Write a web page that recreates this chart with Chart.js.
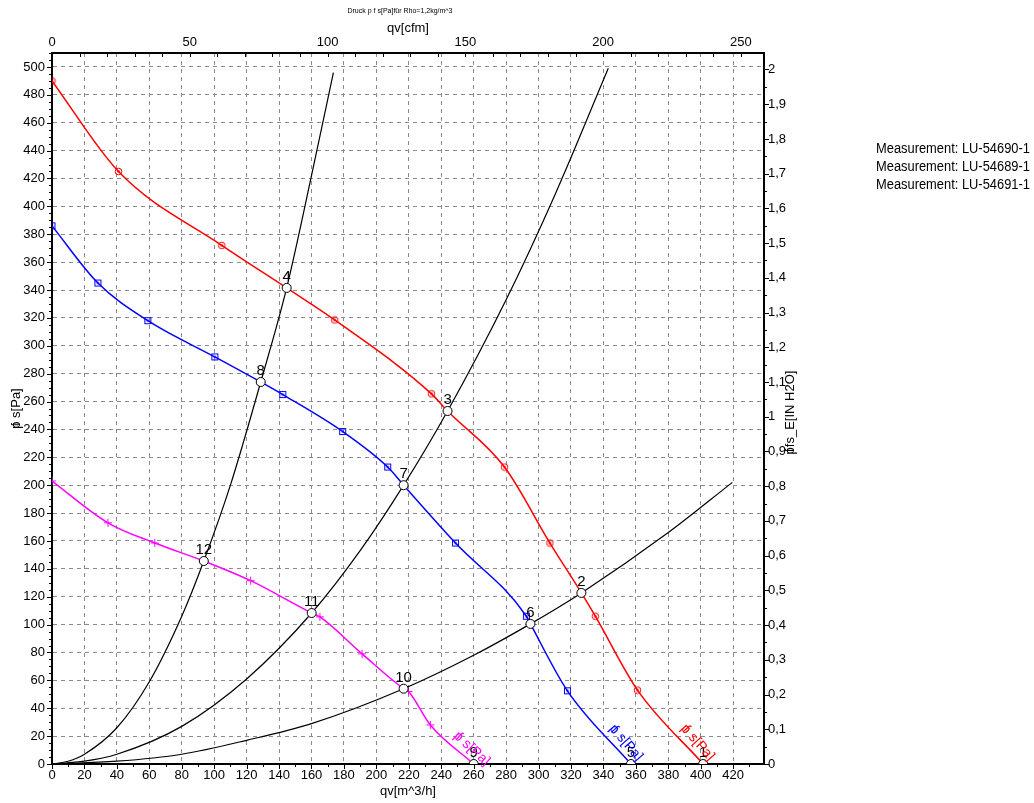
<!DOCTYPE html>
<html>
<head>
<meta charset="utf-8">
<script src="https://cdn.jsdelivr.net/npm/chart.js@4.4.1/dist/chart.umd.min.js"></script>
<style>
  html, body { margin: 0; padding: 0; background: #fff; }
  #wrap { position: relative; width: 1034px; height: 803px; }
  #legend { position: absolute; left: 876px; top: 139px; font: 14px 'Liberation Sans', Arial, sans-serif; line-height: 18px; color: #000; white-space: nowrap; transform: scaleX(0.92); transform-origin: 0 0; }
</style>
</head>
<body>
<div id="wrap">
  <canvas id="chart" width="1034" height="803"></canvas>
  <div id="legend"></div>
</div>
<script>
// axis ranges (m^3/h and Pa), secondary units
const qMax = 439;
const pMax = 510;
const cfmPerM3h = 1 / 1.699;
const inH2OPerPa = 1 / 249.09;

const legendNames = ['Measurement: LU-54690-1', 'Measurement: LU-54689-1', 'Measurement: LU-54691-1'];

// pump curves, q [m^3/h] / p [Pa]; mark = measured point symbol
const redQ = [0, 41, 104.7, 144.7, 174.3, 234, 243.9, 279, 307, 326.4, 335, 361, 401.5];
const redP = [490, 425, 372, 341.5, 318.5, 265.5, 253.2, 213, 158.5, 122.7, 106, 53, 0];
const redMark = [1, 1, 1, 0, 1, 1, 0, 1, 1, 0, 1, 1, 0];

const blueQ = [0, 28.3, 59.1, 100.4, 128.7, 142.3, 179.2, 207, 216.8, 248.8, 292.5, 295, 317.8, 357];
const blueP = [386, 345, 318, 292, 274, 265, 238.5, 213, 200, 158.5, 106, 100.5, 52.5, 0];
const blueMark = [1, 1, 1, 1, 0, 1, 1, 1, 0, 1, 1, 0, 1, 0];

const pinkQ = [0, 34.5, 63.4, 93.6, 122.5, 160.1, 165.2, 191.2, 216.8, 219.8, 233.3, 260];
const pinkP = [203, 173, 158.5, 145.6, 131.5, 108.3, 105.5, 79, 54, 52, 28, 0];
const pinkMark = [1, 1, 1, 0, 1, 0, 1, 1, 0, 1, 1, 0];

// system curves
const sysAQ = [0, 10, 20, 40, 60, 80, 93.6, 110, 128.7, 144.7, 160, 173.5];
const sysAP = [0, 2, 7, 26, 59, 106, 145.6, 200, 274, 341.5, 422, 496];
const sysBQ = [0, 20, 40, 80, 120, 160.1, 190, 216.8, 243.9, 280, 310, 343];
const sysBP = [0, 2, 7, 27, 61, 108.3, 153, 200, 253.2, 333, 408, 499];
const sysCQ = [0, 40, 80, 120, 160, 216.8, 260, 295, 326.4, 380, 419.5];
const sysCP = [0, 2, 7, 17, 29, 54, 78, 100.5, 122.7, 166, 202];

// operating points
const opNum = ['1', '2', '3', '4', '5', '6', '7', '8', '9', '10', '11', '12'];
const opQ = [401.5, 326.4, 243.9, 144.7, 357, 295, 216.8, 128.7, 260, 216.8, 160.1, 93.6];
const opP = [0, 122.7, 253.2, 341.5, 0, 100.5, 200, 274, 0, 54, 108.3, 145.6];

document.getElementById('legend').innerHTML = legendNames.map(n => '<div>' + n + '</div>').join('');

const FONT = "'Liberation Sans', Arial, sans-serif";
const pts = (qs, ps) => qs.map((q, i) => ({x: q, y: ps[i]}));

function markImage(kind, color) {
  const c = document.createElement('canvas');
  c.width = 9; c.height = 9;
  const g = c.getContext('2d');
  g.strokeStyle = color; g.fillStyle = color; g.lineWidth = 1;
  if (kind === 'ring') {
    g.beginPath(); g.arc(4.5, 4.5, 3.3, 0, Math.PI * 2); g.stroke();
    g.beginPath(); g.arc(4.5, 4.5, 1.3, 0, Math.PI * 2); g.fill();
  } else {
    g.strokeRect(1.5, 1.5, 6, 6);
    g.fillRect(3.5, 3.5, 2, 2);
  }
  return c;
}
const ringRed = markImage('ring', '#ff0000');
const boxBlue = markImage('box', '#0000ff');

// "pf" drawn as overlapping glyphs like in the original
function pfText(g, x, y, rest) {
  const wp = g.measureText('p').width;
  const total = wp + g.measureText(rest).width;
  const x0 = x - total / 2;
  g.textAlign = 'left';
  g.fillText('p', x0, y);
  g.fillText('f', x0 + wp * 0.3, y);
  g.fillText(rest, x0 + wp, y);
}

const tickPlugin = {
  id: 'axisTicks',
  afterDraw(chart) {
    const {ctx: g, chartArea: a, scales} = chart;
    g.save();
    g.strokeStyle = '#000';
    g.lineWidth = 1;
    const run = (scale, step, every, fn) => {
      for (let i = 0; i * step <= scale.max + 1e-9; i++) {
        fn(scale.getPixelForValue(i * step), i % every === 0);
      }
    };
    g.beginPath();
    run(scales.y, 5, 4, (p, major) => { const y = Math.round(p) + 0.5; g.moveTo(a.left, y); g.lineTo(a.left - (major ? 5 : 3), y); });
    run(scales.x, 10, 2, (p, major) => { const x = Math.round(p) + 0.5; g.moveTo(x, a.bottom); g.lineTo(x, a.bottom + (major ? 5 : 3)); });
    run(scales.x2, 10, 5, (p) => { const x = Math.round(p) + 0.5; g.moveTo(x, a.top); g.lineTo(x, a.top + 4); });
    run(scales.y2, 0.05, 2, (p, major) => { const y = Math.round(p) + 0.5; g.moveTo(a.right, y); g.lineTo(a.right + (major ? 5 : 3), y); });
    g.stroke();
    g.restore();
  }
};

const textPlugin = {
  id: 'texts',
  afterDraw(chart) {
    const {ctx: g, chartArea: a, scales} = chart;
    const cx = (a.left + a.right) / 2;
    const cy = (a.top + a.bottom) / 2;
    g.save();
    g.fillStyle = '#000';
    g.textBaseline = 'middle';
    g.textAlign = 'center';
    g.font = '7px ' + FONT;
    g.fillText('Druck p f s[Pa]für Rho=1,2kg/m^3', 400, 11);
    g.font = '13px ' + FONT;
    g.fillText('qv[cfm]', cx, 28);
    g.fillText('qv[m^3/h]', cx, 791);
    g.save();
    g.translate(16, cy);
    g.rotate(-Math.PI / 2);
    pfText(g, 0, 0, ' s[Pa]');
    g.restore();
    g.save();
    g.translate(790, cy + 4);
    g.rotate(-Math.PI / 2);
    pfText(g, 0, 0, 'fs_E[IN H2O]');
    g.restore();

    // operating point numbers
    g.font = '15px ' + FONT;
    opNum.forEach((n, i) => {
      g.fillText(n, scales.x.getPixelForValue(opQ[i]), scales.y.getPixelForValue(opP[i]) - 11);
    });

    // curve names along the last segment of each pump curve
    g.font = '14px ' + FONT;
    [[redQ, redP, '#ff0000'], [blueQ, blueP, '#0000ff'], [pinkQ, pinkP, '#ff00ff']].forEach(([qs, ps, col]) => {
      const n = qs.length;
      const x1 = scales.x.getPixelForValue(qs[n - 2]), y1 = scales.y.getPixelForValue(ps[n - 2]);
      const x2 = scales.x.getPixelForValue(qs[n - 1]), y2 = scales.y.getPixelForValue(ps[n - 1]);
      const ang = Math.atan2(y2 - y1, x2 - x1);
      const px = x1 + (x2 - x1) * 0.8 + Math.sin(ang) * 10;
      const py = y1 + (y2 - y1) * 0.8 - Math.cos(ang) * 10;
      g.save();
      g.fillStyle = col;
      g.translate(px, py);
      g.rotate(ang);
      pfText(g, 0, 0, ' s[Pa]');
      g.restore();
    });
    g.restore();
  }
};

const tickFont = {family: FONT, size: 13};
const ctx = document.getElementById('chart').getContext('2d');
const chart = new Chart(ctx, {
  type: 'scatter',
  data: {
    datasets: [
      {
        label: 'Operating points',
        data: pts(opQ, opP),
        showLine: false,
        pointStyle: 'circle',
        pointRadius: 4.5,
        pointBackgroundColor: '#ffffff',
        pointBorderColor: '#000000',
        pointBorderWidth: 1,
        clip: {left: 10, right: 10, top: 10, bottom: 0}
      },
      {
        label: legendNames[0],
        data: pts(redQ, redP),
        showLine: true,
        borderColor: '#ff0000',
        borderWidth: 1.5,
        cubicInterpolationMode: 'monotone',
        pointStyle: ringRed,
        pointRadius: c => redMark[c.dataIndex] ? 4 : 0
      },
      {
        label: legendNames[1],
        data: pts(blueQ, blueP),
        showLine: true,
        borderColor: '#0000ff',
        borderWidth: 1.5,
        cubicInterpolationMode: 'monotone',
        pointStyle: boxBlue,
        pointRadius: c => blueMark[c.dataIndex] ? 4 : 0
      },
      {
        label: legendNames[2],
        data: pts(pinkQ, pinkP),
        showLine: true,
        borderColor: '#ff00ff',
        borderWidth: 1.5,
        cubicInterpolationMode: 'monotone',
        pointStyle: 'cross',
        pointBorderColor: '#ff00ff',
        pointBorderWidth: 1,
        pointRadius: c => pinkMark[c.dataIndex] ? 4 : 0
      },
      {label: 'sysA', data: pts(sysAQ, sysAP), showLine: true, borderColor: '#000', borderWidth: 1.2, cubicInterpolationMode: 'monotone', pointRadius: 0},
      {label: 'sysB', data: pts(sysBQ, sysBP), showLine: true, borderColor: '#000', borderWidth: 1.2, cubicInterpolationMode: 'monotone', pointRadius: 0},
      {label: 'sysC', data: pts(sysCQ, sysCP), showLine: true, borderColor: '#000', borderWidth: 1.2, cubicInterpolationMode: 'monotone', pointRadius: 0}
    ]
  },
  options: {
    responsive: false,
    animation: false,
    layout: {padding: 0},
    plugins: {
      legend: {display: false},
      tooltip: {enabled: false}
    },
    scales: {
      x: {
        type: 'linear', position: 'bottom', min: 0, max: qMax,
        afterFit: s => { s.height = 39; },
        ticks: {stepSize: 20, includeBounds: false, autoSkip: false, maxRotation: 0, padding: 4, color: '#000', font: tickFont},
        grid: {color: '#8c8c8c', lineWidth: 1, drawTicks: false},
        border: {display: true, color: '#000', width: 2, dash: [4, 4]}
      },
      y: {
        type: 'linear', position: 'left', min: 0, max: pMax,
        afterFit: s => { s.width = 52; },
        ticks: {stepSize: 20, includeBounds: false, autoSkip: false, padding: 7, color: '#000', font: tickFont},
        grid: {color: '#8c8c8c', lineWidth: 1, drawTicks: false},
        border: {display: true, color: '#000', width: 2, dash: [4, 4]}
      },
      x2: {
        type: 'linear', position: 'top', min: 0, max: qMax * cfmPerM3h,
        afterFit: s => { s.height = 53; },
        ticks: {stepSize: 50, includeBounds: false, autoSkip: false, maxRotation: 0, padding: 3, color: '#000', font: tickFont},
        grid: {display: false, drawTicks: false},
        border: {display: true, color: '#000', width: 2}
      },
      y2: {
        type: 'linear', position: 'right', min: 0, max: pMax * inH2OPerPa,
        afterFit: s => { s.width = 270; },
        ticks: {
          stepSize: 0.1, includeBounds: false, autoSkip: false, padding: 4, color: '#000', font: tickFont,
          callback: v => String(Number(v.toFixed(1))).replace('.', ',')
        },
        grid: {display: false, drawTicks: false},
        border: {display: true, color: '#000', width: 2}
      }
    }
  },
  plugins: [tickPlugin, textPlugin]
});
</script>
</body>
</html>
